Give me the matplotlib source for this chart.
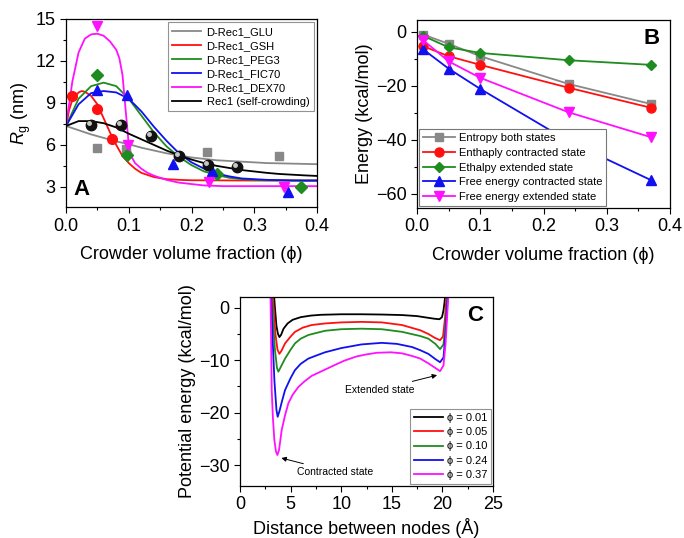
import matplotlib
matplotlib.use("Agg")
import matplotlib.pyplot as plt
from matplotlib.transforms import ScaledTranslation
from matplotlib.ticker import MultipleLocator

plt.rcParams['font.family'] = ['Liberation Sans', 'DejaVu Sans']
plt.rcParams['mathtext.fontset'] = 'custom'
plt.rcParams['mathtext.rm'] = 'Liberation Sans'
plt.rcParams['mathtext.it'] = 'Liberation Sans:italic'
plt.rcParams['xtick.direction'] = 'out'
plt.rcParams['ytick.direction'] = 'out'

# ---------------- Panel A data ----------------
glu_phi = [0.05, 0.095, 0.225, 0.34]
glu_rg = [5.75, 5.7, 5.5, 5.2]
gsh_phi = [0.01, 0.05, 0.073]
gsh_rg = [9.5, 8.6, 6.45]
peg_phi = [0.05, 0.097, 0.24, 0.375]
peg_rg = [11.0, 5.25, 3.9, 3.0]
fic_phi = [0.05, 0.097, 0.17, 0.232, 0.353]
fic_rg = [9.9, 9.6, 4.65, 4.1, 2.6]
dex_phi = [0.05, 0.098, 0.228, 0.348]
dex_rg = [14.5, 6.0, 3.35, 3.0]
rec_phi = [0.04, 0.088, 0.135, 0.18, 0.227, 0.272]
rec_rg = [7.4, 7.4, 6.6, 5.2, 4.55, 4.4]

fit_phi = [0.0, 0.02, 0.04, 0.06, 0.08, 0.1, 0.12, 0.14, 0.16, 0.18, 0.2,
           0.22, 0.24, 0.26, 0.28, 0.3, 0.32, 0.34, 0.36, 0.38, 0.4]
glu_fit = [7.35, 7.05, 6.75, 6.5, 6.25, 6.05, 5.8, 5.6, 5.4, 5.25, 5.1,
           5.0, 4.9, 4.85, 4.8, 4.75, 4.7, 4.68, 4.66, 4.64, 4.62]
peg_fit = [7.35, 9.3, 10.2, 10.45, 10.2, 9.3, 8.1, 6.9, 5.9, 5.15, 4.55,
           4.1, 3.85, 3.65, 3.55, 3.5, 3.47, 3.46, 3.45, 3.45, 3.45]
fic_fit = [7.35, 8.9, 9.7, 9.85, 9.75, 9.3, 8.4, 7.3, 6.3, 5.4, 4.75,
           4.3, 3.95, 3.75, 3.6, 3.55, 3.5, 3.48, 3.46, 3.45, 3.45]
rec_fit = [7.35, 7.7, 7.7, 7.55, 7.25, 6.8, 6.4, 6.0, 5.6, 5.25, 4.95,
           4.7, 4.5, 4.35, 4.2, 4.1, 4.0, 3.92, 3.87, 3.82, 3.78]
gsh_fit_phi = [0.0, 0.005, 0.01, 0.02, 0.025, 0.03, 0.04, 0.05, 0.06, 0.07,
               0.08, 0.09, 0.1, 0.11, 0.12, 0.14, 0.16, 0.18, 0.2, 0.3, 0.4]
gsh_fit = [7.35, 8.5, 9.2, 9.75, 9.85, 9.8, 9.5, 8.9, 7.9, 6.9,
           6.0, 5.2, 4.7, 4.3, 4.0, 3.7, 3.55, 3.5, 3.47, 3.45, 3.45]
dex_fit_phi = [0.0, 0.01, 0.02, 0.03, 0.04, 0.05, 0.06, 0.07, 0.08, 0.085,
               0.09, 0.095, 0.1, 0.105, 0.11, 0.12, 0.13, 0.14, 0.16, 0.18,
               0.2, 0.22, 0.25, 0.3, 0.4]
dex_fit = [7.35, 10.5, 12.6, 13.6, 13.9, 13.95, 13.8, 13.4, 12.8, 12.2,
           11.0, 8.5, 6.0, 5.1, 4.7, 4.3, 4.0, 3.8, 3.5, 3.3,
           3.2, 3.1, 3.05, 3.05, 3.05]

# ---------------- Panel B data ----------------
b_phi = [0.01, 0.05, 0.1, 0.24, 0.37]
entropy = [-1.0, -4.4, -9.0, -19.3, -26.7]
enth_contr = [-5.3, -9.0, -12.2, -20.7, -28.1]
enth_ext = [-1.5, -5.7, -7.8, -10.5, -12.2]
free_contr = [-6.5, -13.6, -21.1, -40.5, -54.9]
free_ext = [-3.1, -10.9, -17.0, -29.8, -39.0]

# ---------------- Panel C data ----------------
c01_x = [3.3, 3.45, 3.6, 3.75, 3.89, 4.05, 4.3, 4.7, 5.2, 6.0, 7, 8, 10, 12, 14,
         16, 17.5, 18.5, 19.2, 19.7, 19.95, 20.1, 20.2, 20.3]
c01_y = [4, 0, -3.5, -5.0, -5.6, -5.2, -4.0, -3.0, -2.3, -1.8, -1.5, -1.35, -1.25,
         -1.25, -1.3, -1.4, -1.6, -1.9, -2.1, -2.2, -1.8, -0.5, 1.0, 3]
c05_x = [3.2, 3.35, 3.5, 3.7, 3.89, 4.1, 4.45, 5.0, 5.43, 6.2, 7.08, 8.4, 10, 12,
         14, 16, 17.8, 18.6, 19.2, 19.76, 20.05, 20.25, 20.35, 20.45]
c05_y = [4, -1, -5, -8.0, -8.8, -8.2, -6.8, -5.5, -4.6, -3.8, -3.3, -3.0, -2.8,
         -2.7, -2.8, -3.3, -4.3, -5.0, -5.7, -6.2, -5.5, -2.0, 1, 3]
c10_x = [3.1, 3.25, 3.45, 3.65, 3.79, 4.0, 4.45, 5.0, 5.43, 6.0, 6.75, 8.4, 10,
         12, 14, 16, 17.8, 18.6, 19.3, 19.76, 20.1, 20.3, 20.4, 20.5]
c10_y = [4, -2, -8, -11.5, -12.2, -11.4, -9.7, -8.0, -6.8, -5.9, -5.2, -4.4, -4.1,
         -4.0, -4.1, -4.6, -5.4, -5.9, -6.9, -7.9, -7.0, -3, 0, 3]
c24_x = [3.05, 3.2, 3.4, 3.6, 3.72, 3.9, 4.15, 4.45, 5.0, 5.43, 6.0, 6.75, 7.7,
         8.4, 10, 12, 14, 15.5, 17, 17.8, 18.6, 19.3, 19.76, 20.1, 20.3, 20.45,
         20.55]
c24_y = [4, -5, -14, -19.5, -20.8, -19.7, -17.8, -15.7, -13.4, -11.9, -10.7, -9.7,
         -9.0, -8.5, -7.7, -7.0, -6.7, -6.9, -7.5, -8.1, -8.8, -9.8, -10.4, -9.5,
         -5, 0, 3]
c37_x = [3.0, 3.05, 3.13, 3.25, 3.39, 3.55, 3.69, 3.85, 4.12, 4.45, 4.78, 5.2,
         5.77, 6.4, 7.08, 8.4, 9.5, 10.3, 11.5, 12.5, 13.5, 14.9, 16, 17, 17.8,
         18.6, 19.3, 19.76, 20.1, 20.3, 20.45, 20.6]
c37_y = [4, -3, -15.7, -21, -25.2, -27.4, -28.1, -27.2, -23.3, -20.5, -18.2, -16.6,
         -15.1, -14.0, -13.0, -11.8, -10.8, -10.1, -9.3, -8.9, -8.6, -8.5, -8.7,
         -9.2, -9.7, -10.6, -11.5, -12.1, -11.0, -7, -2, 3]

PHI = '\u03d5'
C_GRAY = '#888888'
C_RED = '#ff1010'
C_GREEN = '#1e8c1e'
C_BLUE = '#1010f0'
C_MAG = '#ff10ff'

fig = plt.figure(figsize=(6.84, 5.38), dpi=100)
TICK_FS = 13
LAB_FS = 13

def style_axes(ax):
    ax.tick_params(axis='both', which='major', labelsize=TICK_FS, length=4, width=0.8)
    ax.tick_params(axis='both', which='minor', length=2.5, width=0.8)
    for s in ax.spines.values():
        s.set_linewidth(0.9)

def style_legend(leg):
    leg.get_frame().set_edgecolor('#777777')
    leg.get_frame().set_linewidth(0.8)

# ---------------- Panel A ----------------
axA = fig.add_axes([0.0965, 0.615, 0.367, 0.3497])
lw = 1.3
axA.plot(fit_phi, glu_fit, color=C_GRAY, lw=lw, label='D-Rec1_GLU')
axA.plot(gsh_fit_phi, gsh_fit, color=C_RED, lw=lw, label='D-Rec1_GSH')
axA.plot(fit_phi, peg_fit, color=C_GREEN, lw=lw, label='D-Rec1_PEG3')
axA.plot(fit_phi, fic_fit, color=C_BLUE, lw=lw, label='D-Rec1_FIC70')
axA.plot(dex_fit_phi, dex_fit, color=C_MAG, lw=lw, label='D-Rec1_DEX70')
axA.plot(fit_phi, rec_fit, color='black', lw=lw, label='Rec1 (self-crowding)')
axA.plot(glu_phi, glu_rg, 's', color=C_GRAY, ms=6, ls='none')
axA.plot(gsh_phi, gsh_rg, 'o', color=C_RED, ms=7, ls='none')
axA.plot(peg_phi, peg_rg, 'D', color=C_GREEN, ms=6, ls='none')
axA.plot(fic_phi, fic_rg, '^', color=C_BLUE, ms=7.5, ls='none')
axA.plot(dex_phi, dex_rg, 'v', color=C_MAG, ms=7.5, ls='none')
axA.plot(rec_phi, rec_rg, 'o', color='#111111', ms=7.5, ls='none')
hl = axA.transData + ScaledTranslation(-1.5/72, 1.5/72, fig.dpi_scale_trans)
axA.plot(rec_phi, rec_rg, 'o', color='#c8c8c8', ms=2.5, ls='none', transform=hl)
axA.set_xlim(0, 0.4)
axA.set_ylim(1.55, 15)
axA.set_xticks([0.0, 0.1, 0.2, 0.3, 0.4])
axA.set_xticklabels(['0.0', '0.1', '0.2', '0.3', '0.4'])
axA.set_yticks([3, 6, 9, 12, 15])
axA.xaxis.set_minor_locator(MultipleLocator(0.05))
axA.yaxis.set_minor_locator(MultipleLocator(1.5))
style_axes(axA)
axA.set_xlabel('Crowder volume fraction (' + PHI + ')', fontsize=LAB_FS, labelpad=8)
axA.set_ylabel(r'$R_{\mathrm{g}}$ (nm)', fontsize=LAB_FS, labelpad=2)
legA = axA.legend(loc='upper right', fontsize=8, frameon=True, fancybox=False,
                  handlelength=2.6, borderpad=0.4, labelspacing=0.36,
                  handletextpad=0.5, borderaxespad=0.3)
style_legend(legA)
axA.text(0.03, 0.04, 'A', transform=axA.transAxes, fontsize=16, fontweight='bold',
         ha='left', va='bottom')

# ---------------- Panel B ----------------
axB = fig.add_axes([0.6096, 0.6134, 0.370, 0.3494])
ms = 6.5
axB.plot(b_phi, entropy, '-s', color=C_GRAY, ms=5.5, lw=lw, label='Entropy both states')
axB.plot(b_phi, enth_contr, '-o', color=C_RED, ms=ms, lw=lw, label='Enthaply contracted state')
axB.plot(b_phi, enth_ext, '-D', color=C_GREEN, ms=5.5, lw=lw, label='Ethalpy extended state')
axB.plot(b_phi, free_contr, '-^', color=C_BLUE, ms=7, lw=lw, label='Free energy contracted state')
axB.plot(b_phi, free_ext, '-v', color=C_MAG, ms=7, lw=lw, label='Free energy extended state')
axB.set_xlim(0, 0.4)
axB.set_ylim(-65.2, 4.4)
axB.set_xticks([0.0, 0.1, 0.2, 0.3, 0.4])
axB.set_xticklabels(['0.0', '0.1', '0.2', '0.3', '0.4'])
axB.set_yticks([0, -20, -40, -60])
axB.set_yticklabels(['0', '\u221220', '\u221240', '\u221260'])
axB.xaxis.set_minor_locator(MultipleLocator(0.05))
axB.yaxis.set_minor_locator(MultipleLocator(10))
style_axes(axB)
axB.set_xlabel('Crowder volume fraction (' + PHI + ')', fontsize=LAB_FS, labelpad=8)
axB.set_ylabel('Energy (kcal/mol)', fontsize=LAB_FS, labelpad=2)
legB = axB.legend(loc='lower left', fontsize=8, frameon=True, fancybox=False,
                  framealpha=1, handlelength=2.9, borderpad=0.35, labelspacing=0.42,
                  handletextpad=0.3, borderaxespad=0.2)
style_legend(legB)
axB.text(0.96, 0.955, 'B', transform=axB.transAxes, fontsize=16, fontweight='bold',
         ha='right', va='top')

# ---------------- Panel C ----------------
axC = fig.add_axes([0.3509, 0.0967, 0.370, 0.3518])
axC.plot(c01_x, c01_y, color='black', lw=lw, label=PHI + ' = 0.01')
axC.plot(c05_x, c05_y, color=C_RED, lw=lw, label=PHI + ' = 0.05')
axC.plot(c10_x, c10_y, color=C_GREEN, lw=lw, label=PHI + ' = 0.10')
axC.plot(c24_x, c24_y, color=C_BLUE, lw=lw, label=PHI + ' = 0.24')
axC.plot(c37_x, c37_y, color=C_MAG, lw=lw, label=PHI + ' = 0.37')
axC.set_xlim(0, 25)
axC.set_ylim(-34, 2.1)
axC.set_xticks([0, 5, 10, 15, 20, 25])
axC.set_yticks([0, -10, -20, -30])
axC.set_yticklabels(['0', '\u221210', '\u221220', '\u221230'])
axC.xaxis.set_minor_locator(MultipleLocator(2.5))
axC.yaxis.set_minor_locator(MultipleLocator(5))
style_axes(axC)
axC.set_xlabel('Distance between nodes (\u00c5)', fontsize=LAB_FS, labelpad=3)
axC.set_ylabel('Potential energy (kcal/mol)', fontsize=LAB_FS, labelpad=2)
legC = axC.legend(loc='lower right', fontsize=8, frameon=True, fancybox=False,
                  handlelength=2.6, borderpad=0.35, labelspacing=0.38,
                  handletextpad=0.3, borderaxespad=0.2)
style_legend(legC)
axC.text(0.96, 0.955, 'C', transform=axC.transAxes, fontsize=16, fontweight='bold',
         ha='right', va='top')
axC.annotate('Contracted state', xy=(3.95, -28.6), xytext=(5.6, -31.3),
             fontsize=7.5, ha='left', va='center',
             arrowprops=dict(arrowstyle='-|>', color='black', lw=0.7,
                             mutation_scale=7, shrinkA=1, shrinkB=1))
axC.annotate('Extended state', xy=(19.6, -12.8), xytext=(10.4, -15.6),
             fontsize=7.5, ha='left', va='center',
             arrowprops=dict(arrowstyle='-|>', color='black', lw=0.7,
                             mutation_scale=7, shrinkA=1, shrinkB=1))

fig.savefig('out.png', dpi=100)
